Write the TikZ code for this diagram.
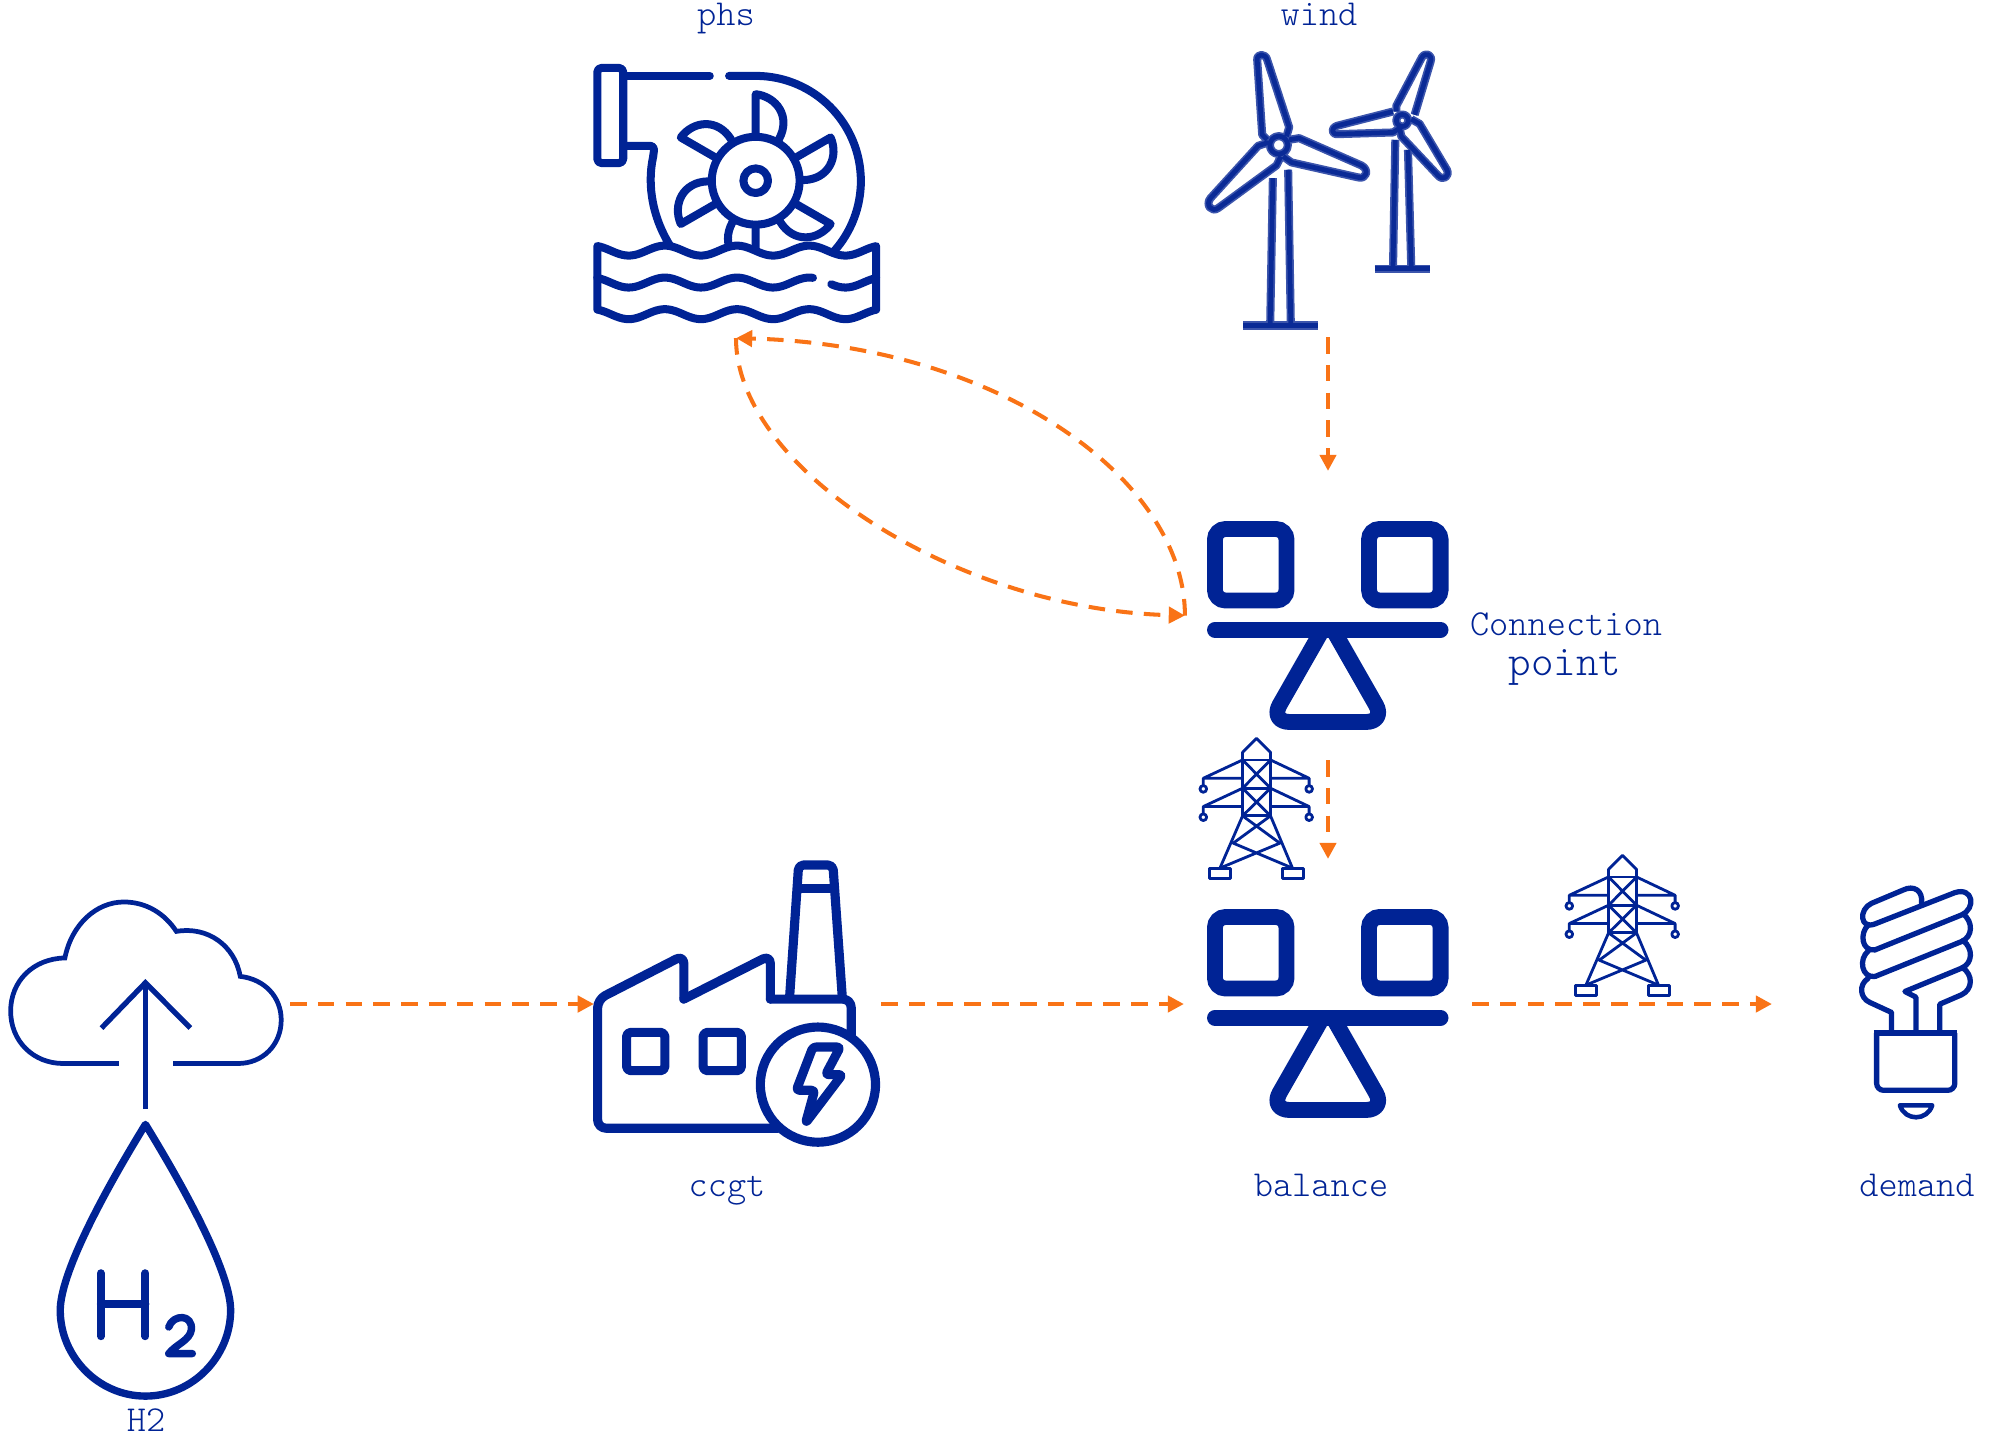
\documentclass[tikz,border=0pt]{standalone}
\usetikzlibrary{arrows.meta}
\definecolor{mblue}{HTML}{002395}
\definecolor{mhalo}{HTML}{3C55AC}
\definecolor{mcore}{HTML}{0A2A96}
\definecolor{morange}{HTML}{F97316}
\tikzset{
  zoomat/.style={shift={(#1)},x=0.0033333cm,y=-0.0033333cm},
  iconbox/.style={inner sep=0pt,outer sep=0pt,minimum height=#1},
  lab/.style={text=mblue,anchor=base,inner sep=0pt,font=\fontsize{10.4pt}{12pt}\fontseries{l}\ttfamily\selectfont},
  conn/.style={draw=morange,line width=1.15pt,dash pattern=on 4.7pt off 3.2pt,-{Triangle[length=4.6pt,width=4.6pt]}},
  thick8/.style={draw=mblue,line width=2.28pt,line cap=round,line join=round},
  thick9/.style={draw=mblue,line width=2.6pt,line cap=round,line join=round},
  thin3/.style={draw=mblue,line width=0.8pt,line cap=round,line join=round},
  halo/.style={draw=mhalo,line width=2.3pt,line cap=butt,line join=round},
  core/.style={draw=mcore,line width=1.35pt,line cap=butt,line join=round},
  balanceicon/.pic={
    \begin{scope}[x=0.0033333cm,y=-0.0033333cm]
      \draw[draw=mblue,line width=4.5pt,rounded corners=3pt] (105,87) rectangle (320,302);
      \draw[draw=mblue,line width=4.5pt,rounded corners=3pt] (568,87) rectangle (783,302);
      \draw[draw=mblue,line width=4.5pt,line cap=round] (105,390) -- (783,390);
      \draw[draw=mblue,line width=4.5pt,line join=round,rounded corners=5.6pt] (428,390) -- (270,667) -- (618,667) -- (460,390);
    \end{scope}
  },
  pylonicon/.pic={
    \begin{scope}[x=0.0033333cm,y=-0.0033333cm]
      \draw[thin3] (188,288) -- (188,97) -- (230,55) -- (272,97) -- (272,288);
      \draw[thin3] (188,120) -- (272,120) (188,205) -- (272,205) (188,288) -- (272,288);
      \draw[thin3] (188,120) -- (272,205) (272,120) -- (188,205) (188,205) -- (272,288) (272,205) -- (188,288);
      \draw[thin3] (188,120) -- (70,175) -- (188,175) (70,175) -- (70,197);
      \draw[thin3] (272,120) -- (388,175) -- (272,175) (388,175) -- (388,197);
      \draw[thin3] (188,205) -- (70,260) -- (188,260) (70,260) -- (70,282);
      \draw[thin3] (272,205) -- (388,260) -- (272,260) (388,260) -- (388,282);
      \draw[thin3] (70,207) circle[radius=10] (388,207) circle[radius=10] (70,292) circle[radius=10] (388,292) circle[radius=10];
      \draw[thin3] (188,288) -- (120,445) (272,288) -- (338,445);
      \draw[thin3] (188,288) -- (300,370) (272,288) -- (160,370);
      \draw[thin3] (160,370) -- (338,445) (300,370) -- (120,445);
      \draw[thin3] (88,445) rectangle (152,475) (307,445) rectangle (371,475);
    \end{scope}
  }
}
\begin{document}
\begin{tikzpicture}[x=0.01cm,y=-0.01cm]
\useasboundingbox (0,0) rectangle (1990,1435);
\clip (0,0) rectangle (1990,1435);

% ---------- phs icon
\begin{scope}[zoomat={570,0}]
  \draw[thick8,rounded corners=1.2pt] (82,204) rectangle (160,490);
  \draw[thick8] (160,228) -- (420,228);
  \draw[thick8] (478,228) -- (558,228) arc[start angle=-90,end angle=42,radius=316];
  \draw[thick8,rounded corners=1.2pt] (160,438) -- (254,438) -- (250,470);
  \draw[thick8] (250,470) .. controls (230,560) and (250,660) .. (305,745);
  \foreach \a in {0,60,...,300}{
    \begin{scope}[rotate around={\a:(558,543)}]
      \draw[thick8] (558,400) -- (558,283) .. controls (620,290) and (665,350) .. (628,418);
    \end{scope}
  }
  \draw[thick8,fill=white] (558,543) circle[radius=132];
  \draw[thick8] (558,543) circle[radius=37];
  \draw[thick8,fill=white] plot[smooth,domain=82:920,samples=90] (\x,{753-15*cos((\x-285)*1.659)})
    -- plot[smooth,domain=920:82,samples=90] (\x,{944-15*cos((\x-285)*1.659)}) -- cycle;
  \draw[thick8] plot[smooth,domain=82:730,samples=70] (\x,{849-15*cos((\x-285)*1.659)});
  \draw[thick8] plot[smooth,domain=785:920,samples=16] (\x,{849-15*cos((\x-285)*1.659)});
\end{scope}

% ---------- wind icon
\begin{scope}[zoomat={1180,0}]
  \foreach \s in {halo,core}{
    \draw[\s] (279,535) -- (271,978) (325,510) -- (333,978);
    \draw[\s] (190,978) -- (415,978);
    \draw[\s] (262,420) -- (247,405) -- (232,180) .. controls (230,160) and (258,160) .. (262,180) -- (328,382) -- (320,410);
    \draw[\s] (328,420) -- (358,415) -- (545,497) .. controls (570,510) and (560,540) .. (535,533) -- (335,488) -- (310,470);
    \draw[\s] (265,428) -- (235,438) -- (92,595) .. controls (75,615) and (95,640) .. (115,625) -- (290,497) -- (303,470);
    \draw[\s] (297,436) circle[radius=27];
    \draw[\s] (647,420) -- (640,807) (685,450) -- (695,807);
    \draw[\s] (585,807) -- (750,807);
    \draw[\s] (650,335) -- (650,318) -- (727,172) .. controls (738,155) and (760,165) .. (753,185) -- (705,345);
    \draw[\s] (640,335) -- (472,378) .. controls (452,385) and (455,405) .. (475,403) -- (640,398) -- (660,385);
    \draw[\s] (695,358) -- (720,372) -- (802,510) .. controls (812,530) and (790,545) .. (775,527) -- (665,410) -- (660,385);
    \draw[\s] (668,362) circle[radius=18];
  }
\end{scope}

% ---------- balance and pylon icons
\pic at (1180,500) {balanceicon};
\pic at (1180,888) {balanceicon};
\pic at (1180,720) {pylonicon};
\pic at (1546,837) {pylonicon};

% ---------- ccgt icon
\begin{scope}[zoomat={570,840}]
  \draw[thick9,rounded corners=2.4pt] (625,866) -- (83,866) -- (83,479) -- (342,346) -- (342,478);
  \draw[thick9,rounded corners=2.4pt] (342,478) -- (602,346) -- (602,478);
  \draw[thick9,rounded corners=2.4pt] (602,478) -- (845,478) -- (845,590);
  \draw[thick9,rounded corners=1.4pt] (660,470) -- (687,75) -- (790,75) -- (818,470);
  \draw[thick9] (693,145) -- (785,145);
  \draw[thick9,rounded corners=1.2pt] (170,578) rectangle (285,693);
  \draw[thick9,rounded corners=1.2pt] (400,578) rectangle (515,693);
  \draw[thick9,fill=white] (745,735) circle[radius=173];
  \draw[thick9,rounded corners=0.9pt] (730,622) -- (812,622) -- (768,705) -- (818,705) -- (708,850) -- (735,752) -- (680,752) -- cycle;
\end{scope}

% ---------- hydrogen cloud and drop
\begin{scope}[shift={(0,880)},x=0.0033333cm,y=-0.0035398cm]
  \draw[draw=mblue,line width=1.35pt,line join=miter]
    (357,518) -- (190,518)
    .. controls (100,518) and (32,455) .. (32,370)
    .. controls (32,285) and (100,222) .. (195,220)
    .. controls (215,125) and (290,62) .. (372,62)
    .. controls (440,62) and (495,95) .. (530,145)
    .. controls (625,130) and (705,185) .. (722,272)
    .. controls (795,280) and (845,330) .. (845,395)
    .. controls (845,465) and (790,518) .. (715,518)
    -- (520,518);
  \draw[draw=mblue,line width=1.5pt,line join=miter] (437,647) -- (437,290);
  \draw[draw=mblue,line width=1.5pt,line join=miter] (305,418) -- (437,290) -- (572,418);
  \draw[draw=mblue,line width=2.1pt,line join=round]
    (437,690) .. controls (300,900) and (181,1115) .. (181,1215)
    .. controls (181,1345) and (295,1457) .. (437,1457)
    .. controls (579,1457) and (693,1345) .. (693,1215)
    .. controls (693,1115) and (574,900) .. (437,690) -- cycle;
  \draw[draw=mblue,line width=2.25pt,line cap=round] (303,1110) -- (303,1288) (437,1110) -- (437,1288) (303,1197) -- (437,1197);
  \draw[draw=mblue,line width=2.1pt,line cap=round,line join=round]
    (507,1262) .. controls (520,1225) and (580,1225) .. (575,1270) .. controls (570,1300) and (530,1310) .. (507,1337) -- (578,1337);
\end{scope}

% ---------- demand bulb
\begin{scope}[zoomat={1840,870}]
  \draw[thick8,line width=1.5pt] (245,100) .. controls (250,60) and (220,45) .. (190,60) -- (95,100)
     .. controls (55,118) and (60,180) .. (105,162) -- (345,68)
     .. controls (400,50) and (410,115) .. (365,135) -- (105,240);
  \draw[thick8,line width=1.5pt] (85,165) .. controls (58,190) and (65,245) .. (105,240);
  \draw[thick8,line width=1.5pt] (370,132) .. controls (400,155) and (400,200) .. (365,215) -- (105,320);
  \draw[thick8,line width=1.5pt] (85,243) .. controls (55,268) and (65,325) .. (105,320);
  \draw[thick8,line width=1.5pt] (370,212) .. controls (400,235) and (400,280) .. (365,295) -- (195,365) -- (228,382) -- (228,490);
  \draw[thick8,line width=1.5pt] (368,293) .. controls (400,315) and (400,358) .. (365,375) -- (300,403) -- (300,490);
  \draw[thick8,line width=1.5pt] (85,325) .. controls (55,345) and (60,385) .. (90,398) -- (155,428) -- (155,490);
  \draw[draw=mblue,line width=1.5pt,rounded corners=2pt] (110,490) -- (110,662) -- (345,662) -- (345,490);
  \draw[draw=mblue,line width=1.5pt] (102,490) -- (353,490);
  \draw[thick8,line width=1.3pt] (180,707) .. controls (195,755) and (262,755) .. (277,707) -- cycle;
\end{scope}

% ---------- invisible boxes that the connectors join
\node[iconbox=3.76cm,minimum width=2.8cm] (phs) at (736,150) {};
\node[iconbox=2.74cm,minimum width=2.6cm] (wind) at (1328,200) {};
\node[iconbox=2.89cm,minimum width=2.86cm] (conpoint) at (1328,615.5) {};
\node[iconbox=2.9cm,minimum width=2.88cm] (balance) at (1328,1004) {};
\node[iconbox=2.4cm,minimum width=2.87cm] (ccgt) at (737.5,1004) {};
\node[iconbox=2.4cm,minimum width=2.8cm] (cloud) at (150,1004) {};
\node[iconbox=2.4cm,minimum width=2.16cm] (demand) at (1880,1004) {};

% ---------- connectors
\draw[conn] (cloud.east) -- (ccgt.west);
\draw[conn] (ccgt.east) -- (balance.west);
\draw[conn] (balance.east) -- (demand.west);
\draw[conn] (wind.south) -- (conpoint.north);
\draw[conn] (conpoint.south) -- (balance.north);
\draw[conn] (conpoint.west) .. controls (1185,480) and (1000,345) .. (phs.south);
\draw[conn] (phs.south) .. controls (736,470) and (960,610) .. (conpoint.west);

% ---------- labels
\node[lab] (lphs) at (726,25) {phs};
\node[lab] (lwind) at (1319,25) {wind};
\node[lab] (lcon) at (1566,635) {Connection};
\node[lab,font=\fontsize{12.2pt}{14pt}\fontseries{l}\ttfamily\selectfont] (lpoint) at (1565,675) {point};
\node[lab] (lccgt) at (727,1196) {ccgt};
\node[lab] (lbal) at (1321,1196) {balance};
\node[lab] (ldem) at (1917,1196) {demand};
\node[lab] (lh2) at (146,1431) {H2};
\end{tikzpicture}
\end{document}
